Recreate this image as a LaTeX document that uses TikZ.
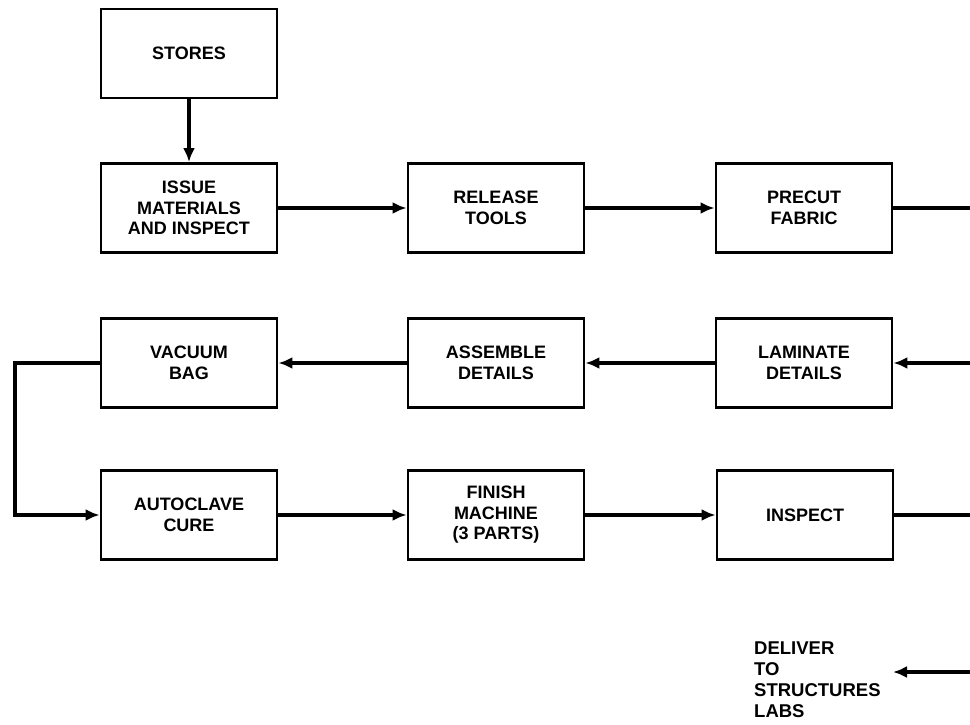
\documentclass[tikz,border=0pt]{standalone}
\usepackage{fontspec}
\setmainfont{Liberation Sans}
\usetikzlibrary{arrows.meta}
\begin{document}
\begin{tikzpicture}[x=1pt,y=-1pt,
  stepbox/.style={draw, line width=2.8pt, rectangle, minimum width=176pt,
    minimum height=89pt, align=center, inner sep=2pt,
    font=\bfseries\fontsize{18}{20.5}\selectfont},
  flow/.style={line width=3.4pt, -{Latex[length=14pt,width=12pt]}},
  plain/.style={line width=3.4pt}]
\useasboundingbox (0,0) rectangle (970,725);

% process steps
\node[stepbox] (stores)    at (189,53.5) {STORES};
\node[stepbox] (issue)     at (189,208)  {ISSUE\\MATERIALS\\AND INSPECT};
\node[stepbox] (release)   at (496,208)  {RELEASE\\TOOLS};
\node[stepbox] (precut)    at (804,208)  {PRECUT\\FABRIC};
\node[stepbox] (vacuum)    at (189,363)  {VACUUM\\BAG};
\node[stepbox] (assemble)  at (496,363)  {ASSEMBLE\\DETAILS};
\node[stepbox] (laminate)  at (804,363)  {LAMINATE\\DETAILS};
\node[stepbox] (autoclave) at (189,515)  {AUTOCLAVE\\CURE};
\node[stepbox] (finish)    at (496,515)  {FINISH\\MACHINE\\(3 PARTS)};
\node[stepbox] (inspect)   at (805,515)  {INSPECT};

\node[anchor=north west, align=left, inner sep=0pt,
  font=\bfseries\fontsize{18.5}{20.7}\selectfont] (deliver) at (754,642)
  {DELIVER\\TO\\STRUCTURES\\LABS};

% ends of the lines at the right margin
\coordinate (r1) at (970,208);
\coordinate (r2) at (970,363);
\coordinate (r3) at (970,515);
\coordinate (r4) at (970,672);
\coordinate (dtip) at (893,672);
\coordinate (loopx) at (15,0);

% connectors
\draw[flow] (stores) -- (issue);
\draw[flow] (issue) -- (release);
\draw[flow] (release) -- (precut);
\draw[plain] (precut.east) -- (r1);
\draw[flow] (r2) -- (laminate.east);
\draw[flow] (laminate) -- (assemble);
\draw[flow] (assemble) -- (vacuum);
\draw[flow] (vacuum.west) -- (loopx |- vacuum.west) -- (loopx |- autoclave.west) -- (autoclave.west);
\draw[flow] (autoclave) -- (finish);
\draw[flow] (finish) -- (inspect);
\draw[plain] (inspect.east) -- (r3);
\draw[flow] (r4) -- (dtip);
\end{tikzpicture}
\end{document}
